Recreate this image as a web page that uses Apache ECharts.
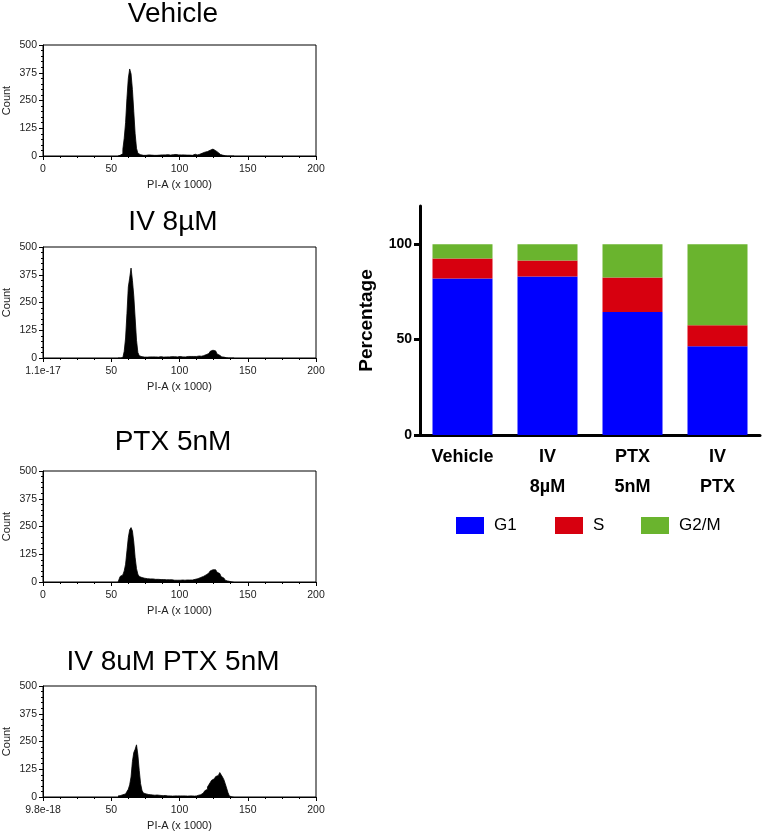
<!DOCTYPE html>
<html>
<head>
<meta charset="utf-8">
<script src="https://cdn.jsdelivr.net/npm/echarts@6/dist/echarts.min.js"></script>
<style>
  html, body { margin: 0; padding: 0; background: #fff; }
  #chart { width: 762px; height: 832px; }
</style>
</head>
<body>
<div id="chart"></div>
<script>
// histogram bins, PI-A (x 1000)
const piBins = [55,56,57,58,59,60,61,62,63,64,65,66,67,68,69,70,71,72,73,74,75,76,77,78,79,80,
  81,82,83,84,85,86,87,88,89,90,91,92,93,94,95,96,97,98,99,100,101,102,103,104,105,106,107,108,109,110,
  111,112,113,114,115,116,117,118,119,120,121,122,123,124,125,126,127,128,129,130,131,132,133,134,135,136,137,138,139,140];

const vehicleCounts = [0,0,3,10,30,80,150,260,350,392,370,300,200,100,35,12,6,4,3,5,3,4,5,3,4,5,
  3,4,3,5,4,6,5,4,5,4,6,5,4,5,6,5,7,6,5,6,5,4,5,3,4,3,4,5,3,4,
  8,4,5,7,9,12,15,17,18,20,23,26,29,31,28,24,20,15,10,7,4,2,1,0,0,0,0,0,0,0];

const iv8Counts = [0,0,0,2,8,30,90,200,320,360,405,350,280,180,80,25,10,6,5,4,5,4,6,5,4,5,
  4,5,6,4,5,6,5,4,6,5,6,5,4,6,5,6,7,5,6,7,6,5,6,5,6,7,6,7,8,7,
  8,7,8,9,9,8,10,13,15,17,20,24,30,35,37,32,26,18,12,8,5,4,2,1,0,0,0,0,0,0];

const ptxCounts = [0,0,25,32,38,50,80,140,200,235,245,230,180,110,60,35,25,20,18,17,16,15,16,14,13,14,
  13,12,13,12,14,11,12,11,13,10,11,10,9,10,9,8,10,8,9,8,7,9,8,8,9,8,9,10,9,11,
  12,13,15,17,20,22,25,28,32,36,40,45,50,55,58,55,50,44,38,30,24,18,12,8,5,3,1,0,0,0];

const comboCounts = [5,6,8,10,12,14,18,25,35,55,90,160,200,215,235,190,120,60,30,18,14,12,11,10,10,9,
  9,8,9,8,8,7,7,6,7,6,5,6,5,5,4,5,4,5,4,5,4,5,4,5,4,4,5,4,5,4,
  4,5,5,8,10,14,18,22,28,35,45,55,65,75,82,88,92,97,100,110,100,90,78,60,40,20,5,0,0,0];

const histTitles = ["Vehicle", "IV 8µM", "PTX 5nM", "IV 8uM PTX 5nM"];
const histCounts = [vehicleCounts, iv8Counts, ptxCounts, comboCounts];
const histZeroLabels = ["0", "1.1e-17", "0", "9.8e-18"];

// cell cycle distribution (%)
const groups = ["Vehicle", "IV\n8µM", "PTX\n5nM", "IV\nPTX"];
const g1Pct = [82, 83, 64.5, 46.5];
const sPct = [10.5, 8.5, 18, 11];
const g2mPct = [7.5, 8.5, 17.5, 42.5];

const phaseNames = ["G1", "S", "G2/M"];
const phaseColors = ["#0000ff", "#d7000f", "#6ab42e"];

const FONT = "Arial, 'Liberation Sans', sans-serif";

const chart = echarts.init(document.getElementById("chart"));

const histTops = [45, 247, 471, 686];
const titleTops = [0, 208, 428, 648];

const grids = histTops.map((t) => ({ left: 40, top: t, width: 276, height: 111, show: true, borderColor: "#000", borderWidth: 1, backgroundColor: "transparent" }));
grids.push({ left: 420, top: 206, width: 340, height: 229 });

const xAxes = histTops.map((_, i) => ({
  type: "value",
  gridIndex: i,
  min: 0,
  max: 200,
  interval: 50,
  name: "PI-A (x 1000)",
  nameLocation: "middle",
  nameGap: 23,
  nameTextStyle: { fontFamily: FONT, fontSize: 11, color: "#222" },
  axisLine: { lineStyle: { color: "#000", width: 1 } },
  axisTick: { length: 4, lineStyle: { color: "#000" } },
  minorTick: { show: true, splitNumber: 4, length: 2, lineStyle: { color: "#000" } },
  splitLine: { show: false },
  axisLabel: {
    fontFamily: FONT, fontSize: 10.5, color: "#222", margin: 8,
    formatter: (v) => (v === 0 ? histZeroLabels[i] : String(v)),
  },
}));
xAxes.push({
  type: "category",
  gridIndex: 4,
  data: groups,
  axisLine: { lineStyle: { color: "#000", width: 3 } },
  axisTick: { alignWithLabel: true, length: 7, lineStyle: { color: "#000", width: 3 } },
  axisLabel: { fontFamily: FONT, fontSize: 18, fontWeight: "bold", color: "#000", lineHeight: 30, margin: 7 },
});

const yAxes = histTops.map((_, i) => ({
  type: "value",
  gridIndex: i,
  min: 0,
  max: 500,
  interval: 125,
  name: "Count",
  nameLocation: "middle",
  nameGap: 31,
  nameTextStyle: { fontFamily: FONT, fontSize: 11, color: "#222" },
  axisLine: { show: true, lineStyle: { color: "#000", width: 1 } },
  axisTick: { show: true, length: 4, lineStyle: { color: "#000" } },
  minorTick: { show: true, splitNumber: 5, length: 2, lineStyle: { color: "#000" } },
  splitLine: { show: false },
  axisLabel: { fontFamily: FONT, fontSize: 10.5, color: "#222", margin: 6 },
}));
yAxes.push({
  type: "value",
  gridIndex: 4,
  min: 0,
  max: 120,
  name: "Percentage",
  nameLocation: "middle",
  nameGap: 44,
  nameTextStyle: { fontFamily: FONT, fontSize: 19, fontWeight: "bold", color: "#000" },
  axisLine: { show: true, lineStyle: { color: "#000", width: 3 } },
  axisTick: { show: true, length: 6, customValues: [0, 50, 100], lineStyle: { color: "#000", width: 3 } },
  splitLine: { show: false },
  axisLabel: { customValues: [0, 50, 100], fontFamily: FONT, fontSize: 14, fontWeight: "bold", color: "#000", margin: 8 },
});

const series = histCounts.map((counts, i) => ({
  type: "line",
  xAxisIndex: i,
  yAxisIndex: i,
  step: "middle",
  symbol: "none",
  silent: true,
  data: piBins.map((b, k) => [b, counts[k]]),
  lineStyle: { color: "#000", width: 0.8 },
  areaStyle: { color: "#000", opacity: 1 },
}));

[g1Pct, sPct, g2mPct].forEach((vals, k) => {
  series.push({
    type: "bar",
    name: phaseNames[k],
    xAxisIndex: 4,
    yAxisIndex: 4,
    stack: "cycle",
    barWidth: 60,
    itemStyle: { color: phaseColors[k] },
    data: vals,
  });
});

const legendLefts = [456, 555, 641];

chart.setOption({
  animation: false,
  backgroundColor: "#fff",
  title: histTitles.map((t, i) => ({
    text: t,
    left: 173,
    top: titleTops[i],
    textAlign: "center",
    padding: 0,
    textStyle: { fontFamily: FONT, fontSize: 28, fontWeight: "normal", color: "#000" },
  })),
  legend: phaseNames.map((n, k) => ({
    data: [n],
    left: legendLefts[k],
    top: 517,
    padding: 0,
    icon: "rect",
    itemWidth: 28,
    itemHeight: 17,
    selectedMode: false,
    textStyle: { fontFamily: FONT, fontSize: 17, color: "#000", padding: [0, 0, 0, 5] },
  })),
  grid: grids,
  xAxis: xAxes,
  yAxis: yAxes,
  series: series,
});
</script>
</body>
</html>
